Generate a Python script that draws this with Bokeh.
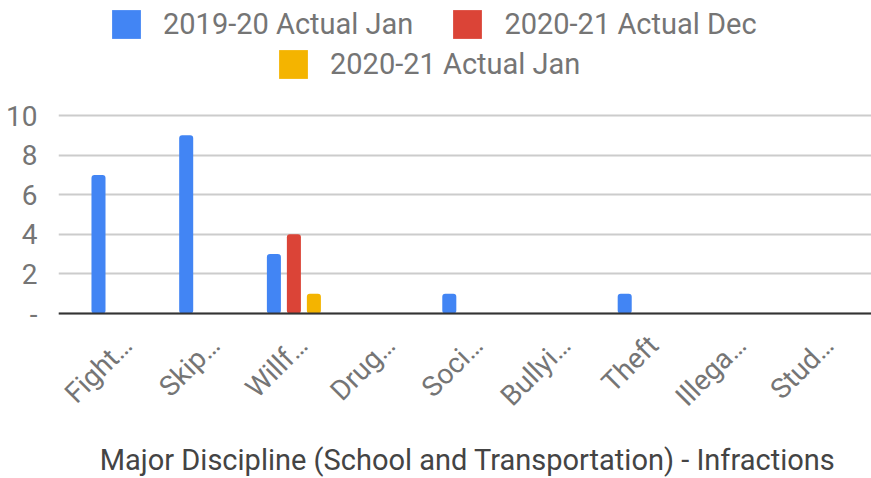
import math
from bokeh.plotting import figure
from bokeh.models import (ColumnDataSource, FixedTicker, Legend, LegendItem, Range1d,
                          LabelSet, Label, Span)
from bokeh.core.properties import value
from bokeh.embed import file_html
from bokeh.resources import INLINE

categories = ["Fight…", "Skip…", "Willf…", "Drug…", "Soci…", "Bullyi…", "Theft", "Illega…", "Stud…"]
series_names = ["2019-20 Actual Jan", "2020-21 Actual Dec", "2020-21 Actual Jan"]
jan_1920 = [7, 9, 3, 0, 1, 0, 1, 0, 0]
dec_2021 = [0, 0, 4, 0, 0, 0, 0, 0, 0]
jan_2021 = [0, 0, 1, 0, 0, 0, 0, 0, 0]
y_ticks = [0, 2, 4, 6, 8, 10]
x_title = "Major Discipline (School and Transportation) - Infractions"
colors = ["#4285F4", "#DB4437", "#F4B400"]
offsets = [-0.228, 0.0, 0.228]

FONT = "Roboto"
GRAY = "#757575"
LABEL_SHIFT = 0.1  # category labels end slightly right of the group centre

p = figure(width=871, height=478, output_backend="svg", toolbar_location=None,
           x_axis_location=None,
           x_range=Range1d(-0.684, 8.586), y_range=Range1d(-8.333, 15.808),
           min_border_left=58, min_border_right=0, min_border_top=0, min_border_bottom=0)
p.outline_line_color = None

xs = list(range(len(categories)))
renderers = []
for vals, col, off in zip([jan_1920, dec_2021, jan_2021], colors, offsets):
    src = ColumnDataSource(dict(x=[i + off for i in xs], top=vals))
    r = p.vbar(x="x", top="top", bottom=0, width=0.16, source=src, fill_color=col,
               line_color=None, border_radius=3)
    renderers.append(r)

# y axis and grid
p.yaxis.ticker = FixedTicker(ticks=y_ticks)
p.yaxis.major_label_overrides = {0: "-"}
p.yaxis.major_label_text_font = FONT
p.yaxis.major_label_text_font_size = "28px"
p.yaxis.major_label_text_color = GRAY
p.yaxis.axis_line_color = None
p.yaxis.major_tick_line_color = None
p.yaxis.minor_tick_line_color = None
p.yaxis.major_label_standoff = 15

p.xgrid.grid_line_color = None
p.ygrid.grid_line_color = "#cccccc"
p.ygrid.grid_line_width = 2

# baseline
p.add_layout(Span(location=0, dimension="width", line_color="#333333", line_width=2))

# category labels (rotated, placed through the data scale)
lab_src = ColumnDataSource(dict(x=[i + LABEL_SHIFT for i in xs], y=[0] * len(xs), text=categories))
p.add_layout(LabelSet(x="x", y="y", text="text", source=lab_src, angle=math.pi / 4,
                      y_offset=-27, text_align="right", text_baseline="middle",
                      text_font=value(FONT), text_font_size=value("28px"), text_color=GRAY))

# axis title
p.add_layout(Label(x=409, y=19, x_units="screen", y_units="screen", text=x_title,
                   text_align="center", text_baseline="alphabetic",
                   text_font=FONT, text_font_size="29px", text_color="#444444"))

def make_legend(items, loc):
    return Legend(items=items, orientation="horizontal", location=loc,
                  label_text_font=FONT, label_text_font_size="29px", label_text_color=GRAY,
                  glyph_width=36, glyph_height=36, label_standoff=19, spacing=36,
                  padding=0, margin=0, border_line_color=None, background_fill_alpha=0)

leg1 = make_legend([LegendItem(label=series_names[0], renderers=[renderers[0]]),
                    LegendItem(label=series_names[1], renderers=[renderers[1]])], (50, 436))
leg2 = make_legend([LegendItem(label=series_names[2], renderers=[renderers[2]])], (217, 396))
p.add_layout(leg1, "center")
p.add_layout(leg2, "center")

open("out.html", "w").write(file_html(p, INLINE))
